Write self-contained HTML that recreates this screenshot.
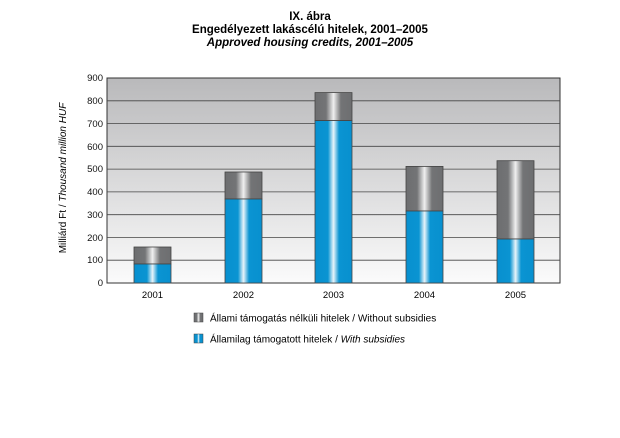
<!DOCTYPE html><html><head><style>body{margin:0;background:#fff;width:620px;height:433px;overflow:hidden}</style></head><body>
<svg width="620" height="433" xmlns="http://www.w3.org/2000/svg" font-family="Liberation Sans, sans-serif">
<defs>
<linearGradient id="bg" x1="0" y1="0" x2="0" y2="1"><stop offset="0" stop-color="#b9b9bb"/><stop offset="1" stop-color="#fbfbfb"/></linearGradient>
<linearGradient id="bl" x1="0" y1="0" x2="1" y2="0"><stop offset="0" stop-color="#0890cf"/><stop offset="0.35" stop-color="#0a94d2"/><stop offset="0.5" stop-color="#e8f4fa"/><stop offset="0.65" stop-color="#0a94d2"/><stop offset="1" stop-color="#0890cf"/></linearGradient>
<linearGradient id="gr" x1="0" y1="0" x2="1" y2="0"><stop offset="0" stop-color="#6d6e70"/><stop offset="0.3" stop-color="#737476"/><stop offset="0.5" stop-color="#f0f0f0"/><stop offset="0.7" stop-color="#737476"/><stop offset="1" stop-color="#6d6e70"/></linearGradient>
</defs>
<text x="310" y="20" text-anchor="middle" font-size="11.5" font-weight="bold">IX. ábra</text>
<text x="310" y="33" text-anchor="middle" font-size="11.5" font-weight="bold">Engedélyezett lakáscélú hitelek, 2001–2005</text>
<text x="310" y="46" text-anchor="middle" font-size="11.5" font-weight="bold" font-style="italic">Approved housing credits, 2001–2005</text>
<rect x="107" y="78" width="453" height="205" fill="url(#bg)" stroke="#333" stroke-width="1"/>
<g stroke="#444" stroke-width="0.8">
<line x1="107" x2="560" y1="100.8" y2="100.8"/><line x1="107" x2="560" y1="123.6" y2="123.6"/><line x1="107" x2="560" y1="146.3" y2="146.3"/><line x1="107" x2="560" y1="169.1" y2="169.1"/><line x1="107" x2="560" y1="191.9" y2="191.9"/><line x1="107" x2="560" y1="214.7" y2="214.7"/><line x1="107" x2="560" y1="237.4" y2="237.4"/><line x1="107" x2="560" y1="260.2" y2="260.2"/>
</g>
<g font-size="9.5" text-anchor="end" fill="#111">
<text x="103" y="81">900</text><text x="103" y="104">800</text><text x="103" y="127">700</text><text x="103" y="150">600</text><text x="103" y="172">500</text><text x="103" y="195">400</text><text x="103" y="218">300</text><text x="103" y="241">200</text><text x="103" y="263">100</text><text x="103" y="286">0</text>
</g>
<text transform="translate(66,178) rotate(-90)" text-anchor="middle" font-size="10">Milliárd Ft / <tspan font-style="italic">Thousand million HUF</tspan></text>
<g stroke="#444" stroke-width="0.8">
<rect x="134" y="247" width="37" height="17" fill="url(#gr)"/><rect x="134" y="264" width="37" height="19" fill="url(#bl)"/>
<rect x="225" y="172" width="37" height="27" fill="url(#gr)"/><rect x="225" y="199" width="37" height="84" fill="url(#bl)"/>
<rect x="315" y="92.6" width="37" height="28" fill="url(#gr)"/><rect x="315" y="120.6" width="37" height="162.4" fill="url(#bl)"/>
<rect x="406" y="166.4" width="37" height="44.6" fill="url(#gr)"/><rect x="406" y="211" width="37" height="72" fill="url(#bl)"/>
<rect x="497" y="160.7" width="37" height="78.3" fill="url(#gr)"/><rect x="497" y="239" width="37" height="44" fill="url(#bl)"/>
</g>
<g font-size="9.5" text-anchor="middle">
<text x="152.5" y="298">2001</text><text x="243.5" y="298">2002</text><text x="333.5" y="298">2003</text><text x="424.5" y="298">2004</text><text x="515.5" y="298">2005</text>
</g>
<rect x="194" y="313" width="9" height="9" fill="url(#gr)" stroke="#444" stroke-width="0.5"/>
<text x="210" y="321.5" font-size="10">Állami támogatás nélküli hitelek / Without subsidies</text>
<rect x="194" y="334" width="9" height="9" fill="url(#bl)" stroke="#444" stroke-width="0.5"/>
<text x="210" y="342.5" font-size="10">Államilag támogatott hitelek / <tspan font-style="italic">With subsidies</tspan></text>
</svg>
</body></html>
